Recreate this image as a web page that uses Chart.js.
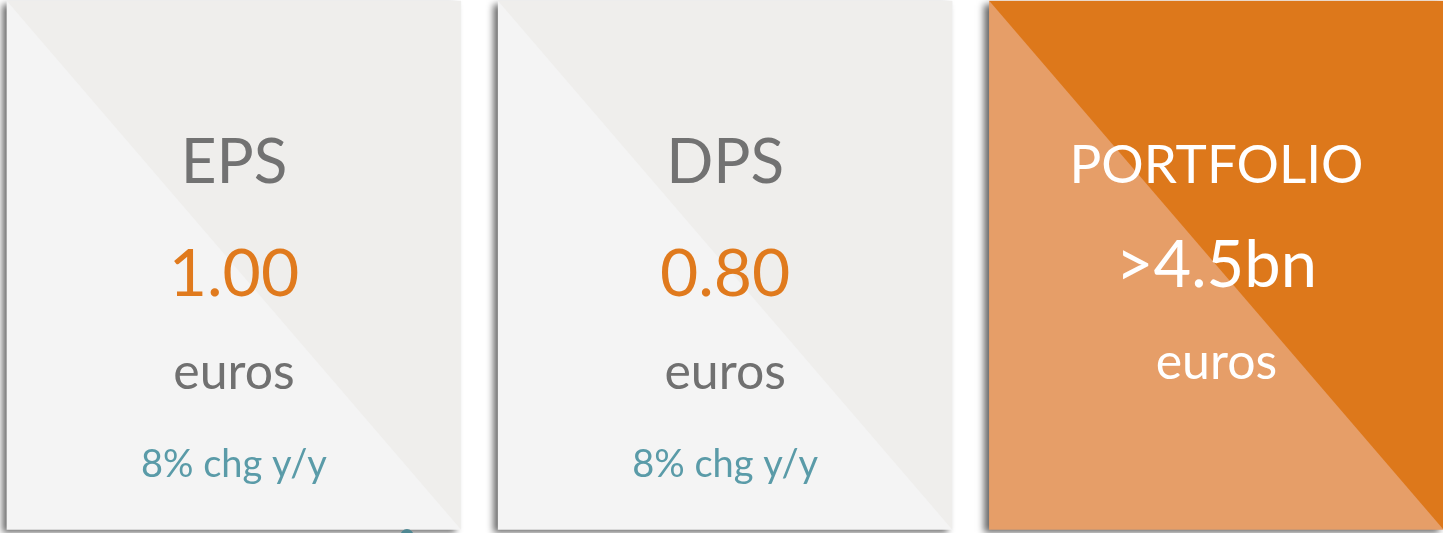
<!DOCTYPE html>
<html>
<head>
<meta charset="utf-8">
<script src="https://cdn.jsdelivr.net/npm/chart.js@4/dist/chart.umd.min.js"></script>
<style>
  html, body { margin: 0; padding: 0; background: #ffffff; }
  #wrap { width: 1443px; height: 533px; position: relative; }
</style>
</head>
<body>
<div id="wrap"><canvas id="c"></canvas></div>
<script>
// ---- data ----
const categories   = ['EPS', 'DPS', 'PORTFOLIO'];
const valueLabels  = ['1.00', '0.80', '>4.5bn'];
const unitLabels   = ['euros', 'euros', 'euros'];
const changeLabels = ['8% chg y/y', '8% chg y/y', ''];
const cardSpan     = [1, 1, 1];   // every card spans the full panel height

// ---- styles ----
const lowerColors  = ['#f4f4f4', '#f4f4f4', '#e69e68'];
const upperColors  = ['#efeeec', '#efeeec', '#dd781b'];
const titleColors  = ['#727272', '#727272', '#ffffff'];
const valueColors  = ['#e07a1d', '#e07a1d', '#ffffff'];
const unitColors   = ['#707070', '#707070', '#ffffff'];
const changeColor  = '#5a9ba8';
const FONT = 'Lato, "Open Sans", sans-serif';

// vertical layout (fraction of card height for baseline, font px)
const layouts = [
  { title: [0.344, 62], value: [0.558, 66], unit: [0.734, 50], change: [0.9007, 38] },
  { title: [0.344, 62], value: [0.558, 66], unit: [0.734, 50], change: [0.9007, 38] },
  { title: [0.344, 53], value: [0.541, 65], unit: [0.715, 50], change: [0.9007, 38] }
];

const cardPlugin = {
  id: 'cards',
  beforeDatasetsDraw(chart) {
    const ctx = chart.ctx;
    ctx.save();
    ctx.shadowColor = 'rgba(0,0,0,0.6)';
    ctx.shadowBlur = 7;
    ctx.shadowOffsetX = -5;
    ctx.shadowOffsetY = 3;
  },
  afterDatasetsDraw(chart) {
    const ctx = chart.ctx;
    ctx.restore();
    const meta = chart.getDatasetMeta(0);
    meta.data.forEach((bar, i) => {
      const p = bar.getProps(['x', 'y', 'base', 'width'], true);
      const left = p.x - p.width / 2, right = p.x + p.width / 2;
      const top = Math.min(p.y, p.base), bottom = Math.max(p.y, p.base);
      const h = bottom - top;
      // upper-right triangle
      ctx.save();
      ctx.beginPath();
      ctx.moveTo(left, top);
      ctx.lineTo(right, top);
      ctx.lineTo(right, bottom);
      ctx.closePath();
      ctx.fillStyle = upperColors[i];
      ctx.fill();
      // texts
      const L = layouts[i];
      ctx.textAlign = 'center';
      ctx.textBaseline = 'alphabetic';
      const put = (txt, spec, color) => {
        if (!txt) return;
        ctx.font = spec[1] + 'px ' + FONT;
        ctx.fillStyle = color;
        ctx.fillText(txt, p.x, top + spec[0] * h);
      };
      put(categories[i], L.title, titleColors[i]);
      put(valueLabels[i], L.value, valueColors[i]);
      put(unitLabels[i], L.unit, unitColors[i]);
      put(changeLabels[i], L.change, changeColor);
      ctx.restore();
    });
    // small teal marker peeking under the first card
    const b0 = meta.data[0].getProps(['x', 'base', 'width'], true);
    ctx.save();
    ctx.beginPath();
    ctx.arc(b0.x + 173, b0.base + 6, 6.5, 0, Math.PI * 2);
    ctx.fillStyle = '#4f8893';
    ctx.fill();
    ctx.restore();
  }
};

new Chart(document.getElementById('c'), {
  type: 'bar',
  data: {
    datasets: [{
      data: cardSpan.map((v, i) => ({ x: i, y: v })),
      backgroundColor: lowerColors,
      borderWidth: 0,
      barThickness: 454
    }]
  },
  options: {
    responsive: true,
    maintainAspectRatio: false,
    animation: false,
    devicePixelRatio: 1,
    layout: { padding: 0 },
    plugins: { legend: { display: false }, tooltip: { enabled: false }, title: { display: false } },
    scales: {
      x: { type: 'linear', min: -0.4763, max: 2.4613, display: false, offset: false },
      y: { type: 'linear', min: -0.00662, max: 1.00189, display: false }
    },
    events: []
  },
  plugins: [cardPlugin]
});
</script>
</body>
</html>
